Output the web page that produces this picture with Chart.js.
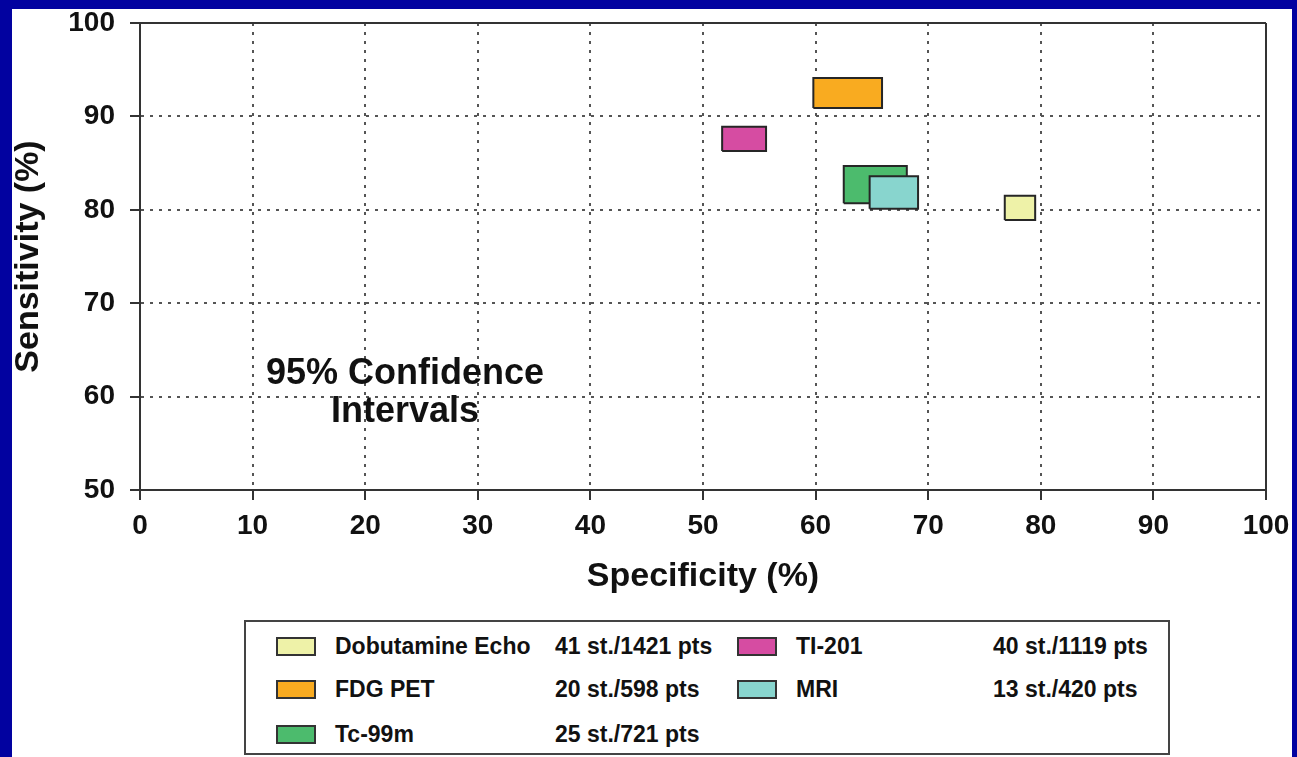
<!DOCTYPE html>
<html>
<head>
<meta charset="utf-8">
<script src="https://cdn.jsdelivr.net/npm/chart.js@4.4.1/dist/chart.umd.min.js"></script>
<style>
  html, body { margin:0; padding:0; background:#0202a0; width:1297px; height:757px; overflow:hidden; }
  #wrap { position:absolute; left:12px; top:9px; width:1280px; height:748px; background:#ffffff; }
  #c { position:absolute; left:0; top:0; }
  .txt { font-family:"Liberation Sans", Arial, sans-serif; font-weight:bold; color:#111; position:absolute; white-space:nowrap; }
  #note { left:193px; top:344px; width:400px; text-align:center; font-size:36px; line-height:38px; }
  #legend { position:absolute; left:232px; top:611px; width:922px; height:131px; border:2px solid #444; background:#fff; }
  .sw { position:absolute; width:36px; height:15px; border:2px solid #333; }
  .lt { font-size:23px; line-height:19px; }
</style>
</head>
<body>
<div id="wrap">
  <canvas id="c" width="1280" height="748"></canvas>
  <div id="note" class="txt">95% Confidence<br>Intervals</div>
  <div id="legend"></div>
</div>
<script>
// ---- data ----
const methods   = ['Dobutamine Echo', 'FDG PET', 'TI-201', 'Tc-99m', 'MRI'];
const specLow   = [76.8, 59.8, 51.7, 62.5, 64.8];
const specHigh  = [79.5, 65.9, 55.6, 68.1, 69.1];
const sensLow   = [78.9, 90.9, 86.3, 80.7, 80.1];
const sensHigh  = [81.5, 94.1, 88.9, 84.7, 83.6];
const studies   = [41, 20, 40, 25, 13];
const patients  = [1421, 598, 1119, 721, 420];
const xTicks    = [0, 10, 20, 30, 40, 50, 60, 70, 80, 90, 100];
const yTicks    = [50, 60, 70, 80, 90, 100];
const xTitle    = 'Specificity (%)';
const yTitle    = 'Sensitivity (%)';

// ---- styles ----
const colors    = ['#eef2a8', '#f9ab20', '#d64ca2', '#4cbb6d', '#88d5ce'];
const drawOrder = [0, 0, 0, 2, 1];
const legendCol = [0, 0, 1, 0, 1];
const legendRow = [0, 1, 0, 2, 1];
const FONT = '"Liberation Sans", Arial, sans-serif';

const datasets = methods.map((m, i) => ({
  label: m,
  data: [
    {x: specLow[i],  y: sensLow[i]},
    {x: specHigh[i], y: sensLow[i]},
    {x: specHigh[i], y: sensHigh[i]},
    {x: specLow[i],  y: sensHigh[i]},
    {x: specLow[i],  y: sensLow[i]}
  ],
  fill: 'shape',
  backgroundColor: colors[i],
  borderColor: '#262626',
  borderWidth: 2,
  borderJoinStyle: 'miter',
  pointRadius: 0,
  tension: 0,
  order: drawOrder[i]
}));

const gridDash = (edgeVal) => (ctx) => (ctx.tick && ctx.tick.value === edgeVal) ? [] : [3, 6];

new Chart(document.getElementById('c'), {
  type: 'line',
  data: { datasets },
  options: {
    animation: false,
    responsive: false,
    layout: { padding: { top: 14, right: 26, bottom: 163, left: 0 } },
    plugins: { legend: { display: false }, tooltip: { enabled: false } },
    scales: {
      x: {
        type: 'linear', min: xTicks[0], max: xTicks[xTicks.length - 1],
        afterBuildTicks: s => { s.ticks = xTicks.map(v => ({value: v})); },
        afterFit: s => { s.height = 104; s.paddingLeft = 0; s.paddingRight = 0; },
        ticks: { color: '#111', padding: 12, maxRotation: 0, font: { family: FONT, size: 28, weight: 'bold', lineHeight: 1 } },
        grid: {
          color: ctx => (ctx.tick && ctx.tick.value === 100) ? '#333' : '#555',
          lineWidth: 2, tickLength: 10, tickColor: '#333', tickWidth: 2
        },
        border: { display: true, color: '#333', width: 2, dash: gridDash(100) },
        title: { display: true, text: xTitle, color: '#111', padding: 0, font: { family: FONT, size: 34, weight: 'bold', lineHeight: 1 } }
      },
      y: {
        type: 'linear', min: yTicks[0], max: yTicks[yTicks.length - 1],
        afterBuildTicks: s => { s.ticks = yTicks.map(v => ({value: v})); },
        afterFit: s => { s.width = 128; s.paddingTop = 0; s.paddingBottom = 0; },
        ticks: { color: '#111', padding: 15, font: { family: FONT, size: 28, weight: 'bold', lineHeight: 1 } },
        grid: {
          color: ctx => (ctx.tick && ctx.tick.value === 100) ? '#333' : '#555',
          lineWidth: 2, tickLength: 10, tickColor: '#333', tickWidth: 2
        },
        border: { display: true, color: '#333', width: 2, dash: gridDash(100) },
        title: { display: true, text: yTitle, color: '#111', padding: 0, font: { family: FONT, size: 34, weight: 'bold', lineHeight: 1 } }
      }
    }
  }
});

// ---- HTML legend built from the arrays ----
const legend = document.getElementById('legend');
const colX = [30, 491];
const rowY = [15, 58, 103];
methods.forEach((m, i) => {
  const cx = colX[legendCol[i]], cy = rowY[legendRow[i]];
  const sw = document.createElement('div');
  sw.className = 'sw';
  sw.style.left = cx + 'px'; sw.style.top = cy + 'px'; sw.style.background = colors[i];
  legend.appendChild(sw);
  const lab = document.createElement('div');
  lab.className = 'txt lt';
  lab.style.left = (cx + 59) + 'px'; lab.style.top = cy + 'px';
  lab.textContent = m;
  legend.appendChild(lab);
  const cnt = document.createElement('div');
  cnt.className = 'txt lt';
  cnt.style.left = (cx + (legendCol[i] === 0 ? 279 : 256)) + 'px'; cnt.style.top = cy + 'px';
  cnt.textContent = studies[i] + ' st./' + patients[i] + ' pts';
  legend.appendChild(cnt);
});
</script>
</body>
</html>
